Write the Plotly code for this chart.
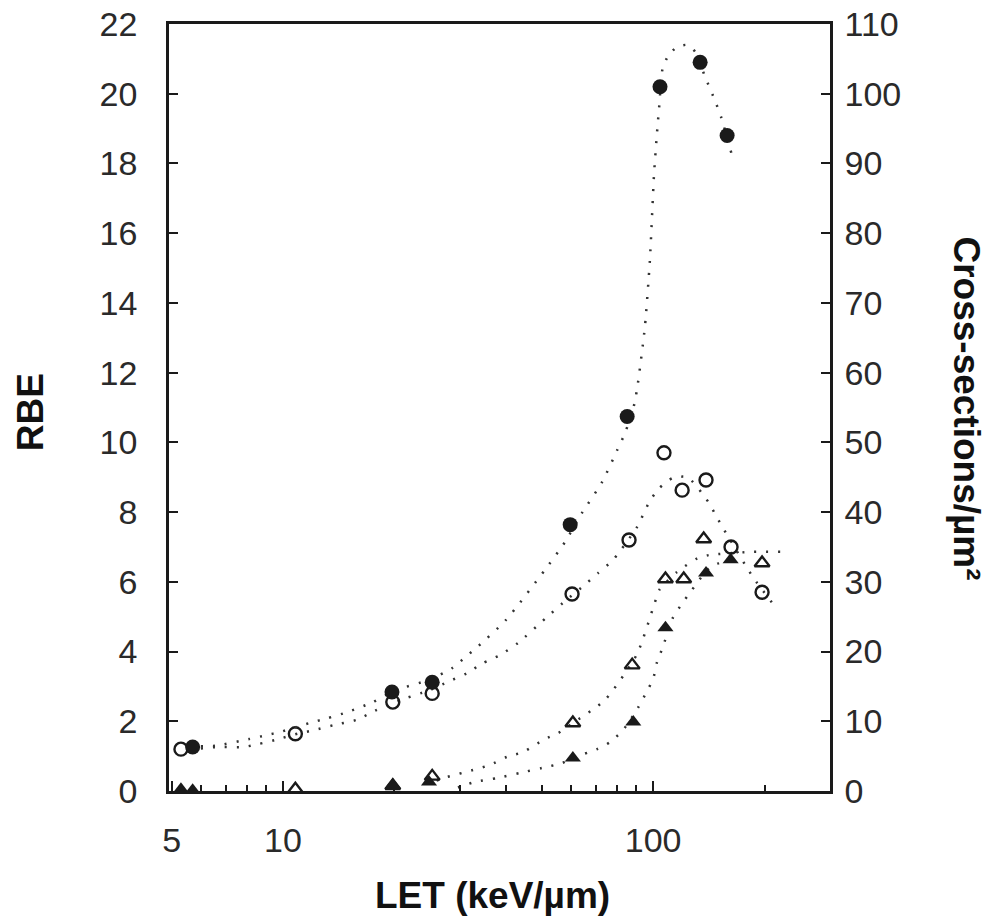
import plotly.graph_objects as go

# ---- data ----
# filled circles (cross-sections, right axis, µm²)
fc_x = [5.7, 19.7, 25.3, 59.7, 85.1, 104.4, 134, 158.5]
fc_y = [6.3, 14.2, 15.6, 38.2, 53.7, 101, 104.5, 94]
# open circles (RBE)
oc_x = [5.3, 10.8, 19.8, 25.3, 60.4, 86.1, 107, 119.8, 139, 162.4, 197]
oc_y = [1.2, 1.64, 2.55, 2.8, 5.65, 7.2, 9.7, 8.63, 8.92, 7.0, 5.7]
# open triangles (RBE)
ot_x = [10.8, 19.8, 25.3, 60.7, 87.8, 108, 121, 137, 197]
ot_y = [0.05, 0.15, 0.42, 1.95, 3.61, 6.08, 6.08, 7.23, 6.54]
# filled triangles (RBE)
ft_x = [5.3, 5.7, 19.8, 24.8, 60.7, 88.4, 108, 139, 162]
ft_y = [0.05, 0.02, 0.17, 0.26, 0.95, 1.98, 4.68, 6.25, 6.63]

# dotted fitted curves
fit_fc_x = [6.0, 6.6, 8.1, 9.0, 9.8, 11.8, 13.2, 15.0, 17.5, 20, 25, 28.7, 31.1, 33.5,
            40, 51, 57.8, 64.2, 72.8, 80, 84, 89, 91, 95, 98, 100.6, 102.5, 104, 106,
            110, 116, 123.5, 130, 138, 147, 153, 163]
fit_fc_y = [6.4, 6.5, 7.45, 8.0, 8.45, 9.75, 10.45, 11.35, 12.75, 14.4, 16.0, 17.65, 19.2,
            20.65, 24.5, 31.7, 35.7, 39.85, 44.3, 48.9, 51.35, 55.5, 58.5, 66.5, 76, 88.5,
            94.5, 98.5, 103.5, 105.5, 106.7, 107, 106, 102.5, 99, 96.5, 91.35]
fit_oc_x = [6.0, 6.6, 7.8, 8.6, 9.5, 11, 12.2, 13.7, 15.8, 17.7, 20, 25, 27.9, 31.4, 34.7,
            38.6, 43.2, 51.3, 57, 66.3, 71, 77.5, 81.4, 90.5, 98, 104, 113, 124, 141, 148,
            155.6, 186, 214]
fit_oc_y = [1.22, 1.26, 1.26, 1.35, 1.46, 1.65, 1.75, 1.89, 2.04, 2.3, 2.55, 2.9, 3.13, 3.38,
            3.67, 3.9, 4.25, 4.96, 5.39, 5.97, 6.25, 6.6, 6.88, 7.57, 8.32, 8.69, 8.98, 9.0,
            8.29, 7.89, 7.49, 6.14, 5.28]
fit_ot_x = [26, 27.7, 32.6, 36.3, 40.3, 44.6, 51, 55.4, 60.7, 74, 90.5, 101, 104, 116, 132,
            142, 186, 223]
fit_ot_y = [0.3, 0.4, 0.6, 0.75, 0.98, 1.12, 1.49, 1.66, 1.95, 2.6, 3.93, 5.39, 5.77, 6.28,
            6.68, 6.77, 6.86, 6.86]
fit_ft_x = [29.7, 33, 37.9, 43.7, 50.1, 56.7, 60.7, 70.6, 76.5, 83, 91, 96, 100, 102.5, 106,
            113, 120, 126, 142, 165]
fit_ft_y = [0.1, 0.26, 0.37, 0.52, 0.66, 0.8, 0.95, 1.2, 1.4, 1.75, 2.38, 2.84, 3.21, 3.7,
            4.1, 4.96, 5.39, 5.7, 6.4, 6.7]

x_major = [5, 10, 100]
x_major_text = ["5", "10", "100"]
x_minor = [6, 7, 8, 9, 20, 30, 40, 50, 60, 70, 80, 90, 200]
y_left_ticks = list(range(0, 23, 2))
y_right_ticks = list(range(0, 111, 10))

INK = "#1a1a1a"
DOT = dict(color="#333333", width=2.5, dash="2px,10px", shape="spline", smoothing=0.6)

fig = go.Figure()

fig.add_trace(go.Scatter(x=fit_fc_x, y=fit_fc_y, mode="lines", line=DOT, yaxis="y2",
                         hoverinfo="skip", showlegend=False))
fig.add_trace(go.Scatter(x=fit_oc_x, y=fit_oc_y, mode="lines", line=DOT,
                         hoverinfo="skip", showlegend=False))
fig.add_trace(go.Scatter(x=fit_ot_x, y=fit_ot_y, mode="lines", line=DOT,
                         hoverinfo="skip", showlegend=False))
fig.add_trace(go.Scatter(x=fit_ft_x, y=fit_ft_y, mode="lines", line=DOT,
                         hoverinfo="skip", showlegend=False))

fig.add_trace(go.Scatter(x=oc_x, y=oc_y, mode="markers", cliponaxis=False,
                         marker=dict(symbol="circle-open", size=13, color=INK,
                                     line=dict(width=2.4, color=INK)), showlegend=False))
fig.add_trace(go.Scatter(x=ot_x, y=ot_y, mode="markers", cliponaxis=False,
                         marker=dict(symbol="triangle-up-open", size=13, color=INK,
                                     line=dict(width=2.4, color=INK)), showlegend=False))
fig.add_trace(go.Scatter(x=ft_x, y=ft_y, mode="markers", cliponaxis=False,
                         marker=dict(symbol="triangle-up", size=14, color=INK), showlegend=False))
fig.add_trace(go.Scatter(x=fc_x, y=fc_y, mode="markers", cliponaxis=False, yaxis="y2",
                         marker=dict(symbol="circle", size=15, color=INK), showlegend=False))

tickfont = dict(family="Liberation Sans, Arial, sans-serif", size=34, color="#2a2a2a")
titlefont = dict(family="Liberation Sans, Arial, sans-serif", size=37, color="#111111",
                 weight="bold")

fig.update_layout(
    width=991, height=924,
    margin=dict(l=169, r=161, t=24, b=133),
    paper_bgcolor="white", plot_bgcolor="white",
    xaxis=dict(type="log", range=[0.692, 2.478], tickmode="array", automargin=False,
               tickvals=x_major, ticktext=x_major_text, ticks="inside", ticklen=10,
               tickwidth=2, tickcolor=INK, showline=True, linecolor=INK, linewidth=2.5,
               mirror=True, showgrid=False, zeroline=False, tickfont=tickfont,
               ticklabelstandoff=17, ticklabeloverflow="allow",
               minor=dict(tickmode="array", tickvals=x_minor, ticks="inside",
                          ticklen=6, tickwidth=2, tickcolor=INK, showgrid=False)),
    yaxis=dict(range=[0, 22], tickmode="array", tickvals=y_left_ticks, ticks="inside",
               automargin=False, ticklabeloverflow="allow",
               ticklen=9, tickwidth=2, tickcolor=INK, showline=True, linecolor=INK,
               linewidth=2.5, showgrid=False, zeroline=False, tickfont=tickfont,
               ticklabelstandoff=22),
    yaxis2=dict(range=[0, 110], overlaying="y", side="right", tickmode="array",
                automargin=False, ticklabeloverflow="allow",
                tickvals=y_right_ticks, ticks="inside", ticklen=9, tickwidth=2,
                tickcolor=INK, showline=True, linecolor=INK, linewidth=2.5,
                showgrid=False, zeroline=False, tickfont=tickfont, ticklabelstandoff=5),
    annotations=[
        dict(text="RBE", xref="paper", yref="paper", x=-0.21, y=0.494, showarrow=False,
             textangle=-90, font=titlefont, xanchor="center", yanchor="middle"),
        dict(text="LET (keV/µm)", xref="paper", yref="paper", x=0.489, y=-0.136,
             showarrow=False, font=titlefont, xanchor="center", yanchor="middle"),
        dict(text="Cross-sections/µm²", xref="paper", yref="paper", x=1.207, y=0.499,
             showarrow=False, textangle=90, font=titlefont, xanchor="center",
             yanchor="middle"),
    ],
)

fig.write_html("out.html", config={"displayModeBar": False},
               post_script="document.body.style.margin='0px';")
